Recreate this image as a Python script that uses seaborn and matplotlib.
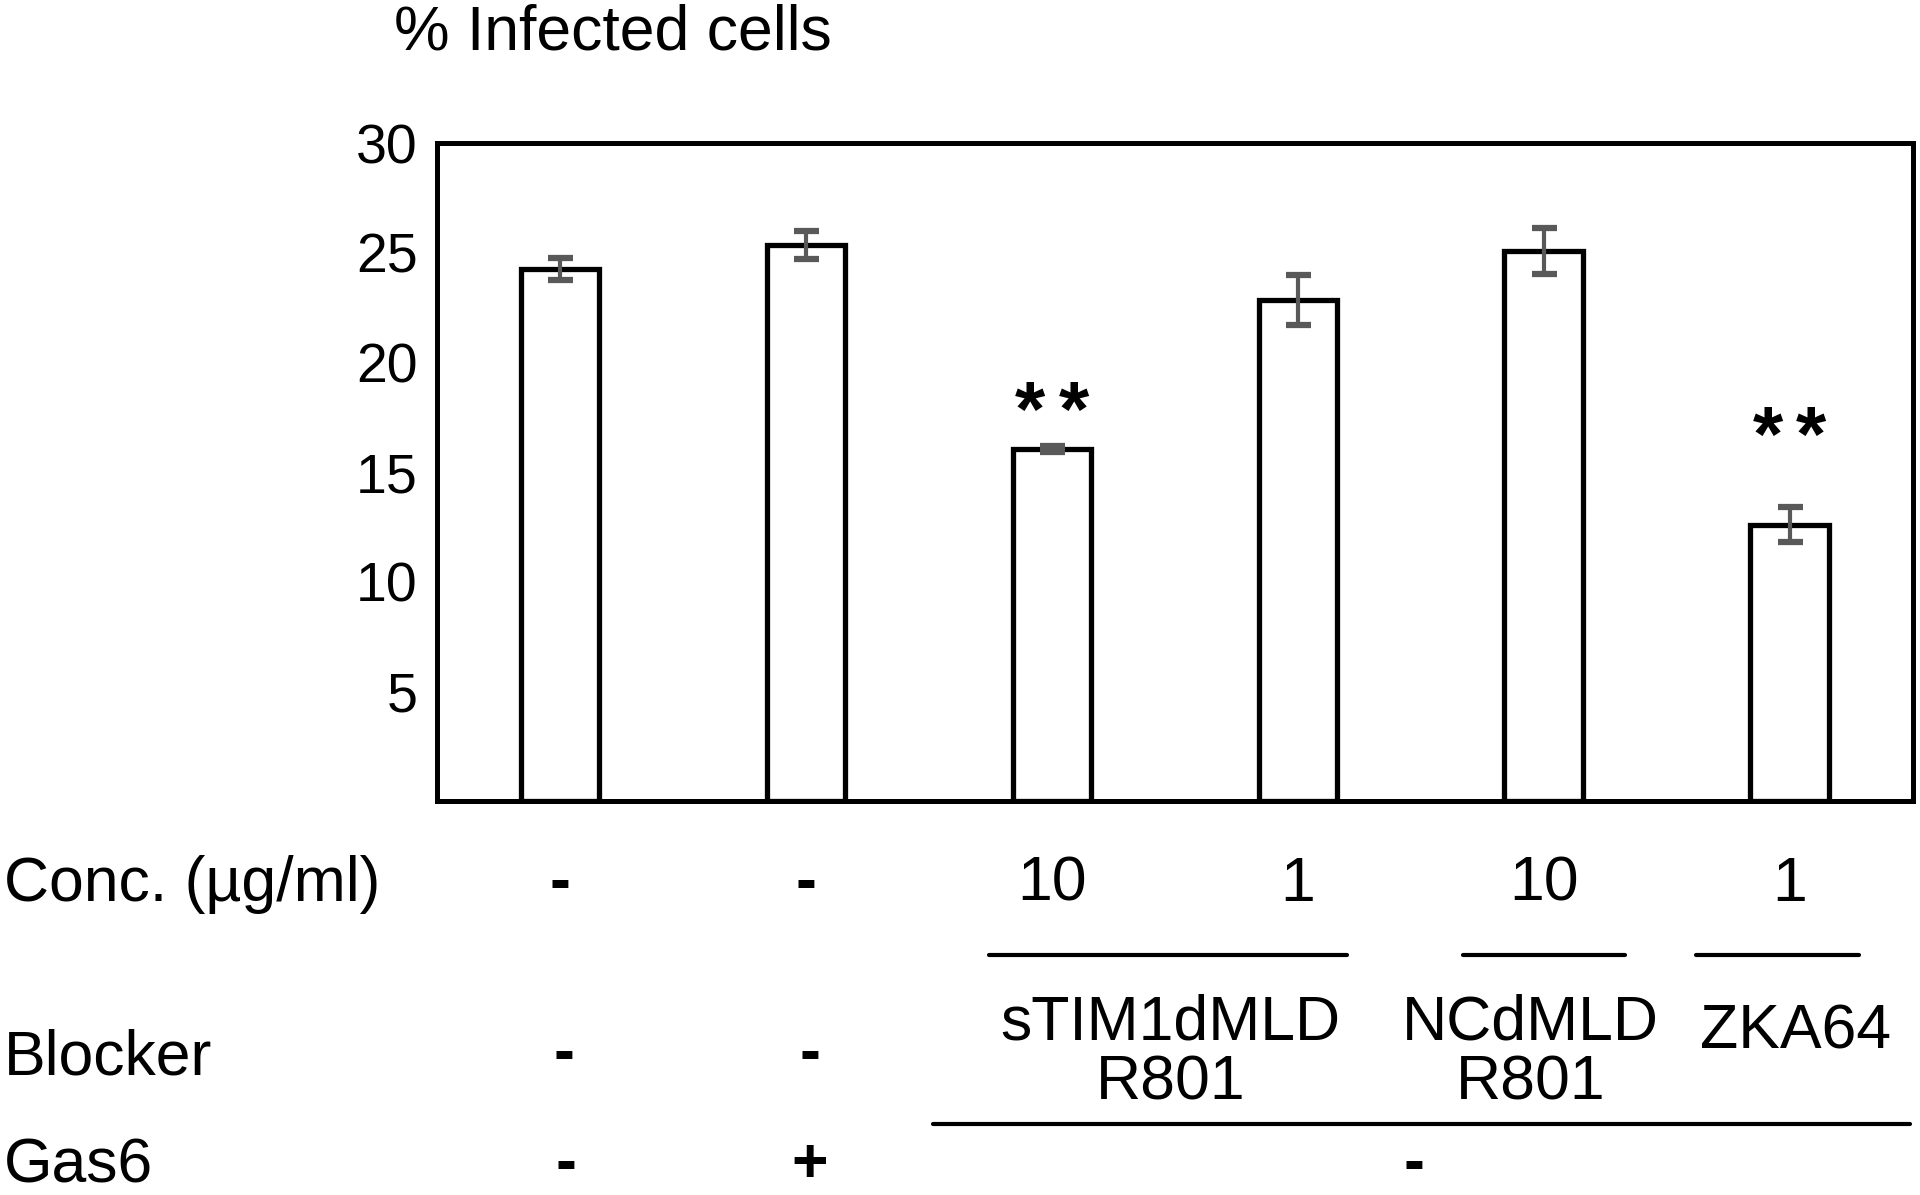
import matplotlib
matplotlib.use("Agg")
import matplotlib.pyplot as plt
import seaborn as sns
import numpy as np
import pandas as pd
from matplotlib.lines import Line2D

groups = ["G1", "G2", "G3", "G4", "G5", "G6"]
values = [24.25, 25.35, 16.05, 22.85, 25.1, 12.6]
errors = [0.5, 0.65, 0.15, 1.15, 1.05, 0.8]
signif = ["", "", "**", "", "", "**"]
signif_y = [0, 0, 17.6, 0, 0, 16.45]
conc_labels = ["-", "-", "10", "1", "10", "1"]
blocker_labels = ["-", "-"]
blocker_names = ["sTIM1dMLD\nR801", "NCdMLD\nR801", "ZKA64"]
gas6_labels = ["-", "+", "-"]
yticks = [5, 10, 15, 20, 25, 30]

sns.set_theme(style="white")
plt.rcParams["font.family"] = ["Liberation Sans", "DejaVu Sans"]
plt.rcParams["text.color"] = "black"
plt.rcParams["ytick.color"] = "black"

W, H = 1568, 976
fig = plt.figure(figsize=(19.2, 11.95), dpi=100)
ax = fig.add_axes([357 / W, 1 - 654 / H, (1562 - 357) / W, (654 - 117) / H])

df = pd.DataFrame({"group": groups, "value": values})
sns.barplot(data=df, x="group", y="value", ax=ax, color="white",
            edgecolor="black", linewidth=3.8, width=0.32, errorbar=None,
            saturation=1)
x = np.arange(len(groups))
ax.errorbar(x, values, yerr=errors, fmt="none", ecolor="#595959",
            elinewidth=3, capsize=9, capthick=4.5, zorder=5)

# significance stars (two separate asterisks, slightly spaced)
for xi, s, sy in zip(x, signif, signif_y):
    if s:
        n = len(s)
        for k in range(n):
            off = (k - (n - 1) / 2) * 0.175
            ax.text(xi + off, sy, "*", ha="center", va="center", fontsize=56,
                    fontweight="bold")

ax.set_xlim(-0.5, 5.5)
ax.set_ylim(0, 30)
ax.set_yticks(yticks)
ax.set_yticklabels([str(t) for t in yticks], fontsize=40, color="black")
ax.set_xticks([])
ax.set_xlabel("")
ax.set_ylabel("")
ax.tick_params(axis="y", length=0, pad=14)
for sp in ax.spines.values():
    sp.set_visible(True)
    sp.set_color("black")
    sp.set_linewidth(3.6)


def fx(px):
    return px / W


def fy(py):
    return 1 - py / H


def xdata_fig(xi):
    return ax.transData.transform((xi, 0))[0] / fig.bbox.width


fs = 45
fig.text(fx(322), fy(27), "% Infected cells", fontsize=fs, ha="left", va="center")

# Row labels
fig.text(fx(3), fy(722), "Conc. (µg/ml)", fontsize=fs, ha="left", va="center")
fig.text(fx(3), fy(864), "Blocker", fontsize=fs, ha="left", va="center")
fig.text(fx(3), fy(952), "Gas6", fontsize=fs, ha="left", va="center")

# Conc row
for xi, lab in zip(x, conc_labels):
    fig.text(xdata_fig(xi), fy(722), lab, fontsize=fs, ha="center", va="center",
             fontweight="bold" if lab == "-" else "normal")

# Blocker row
for xi, lab in zip(x[:2], blocker_labels):
    fig.text(xdata_fig(xi) + 0.002, fy(862), lab, fontsize=fs, ha="center",
             va="center", fontweight="bold")


def hline(x0, x1, y):
    fig.add_artist(Line2D([fx(x0), fx(x1)], [fy(y), fy(y)], color="black",
                          linewidth=3, transform=fig.transFigure))


hline(808, 1100, 780)
hline(1195, 1327, 780)
hline(1385, 1518, 780)
hline(762, 1560, 918)

fig.text(fx(956), fy(860), blocker_names[0], fontsize=fs, ha="center",
         va="center", linespacing=1.03)
fig.text(fx(1250), fy(860), blocker_names[1], fontsize=fs, ha="center",
         va="center", linespacing=1.03)
fig.text(fx(1466), fy(843), blocker_names[2], fontsize=fs, ha="center",
         va="center")

# Gas6 row
gas_x = [xdata_fig(0) + 0.003, xdata_fig(1) + 0.002, fx(1155)]
for gx, lab in zip(gas_x, gas6_labels):
    fig.text(gx, fy(952), lab, fontsize=fs, ha="center", va="center",
             fontweight="bold")

fig.savefig("out.png", dpi=100, facecolor="white")
